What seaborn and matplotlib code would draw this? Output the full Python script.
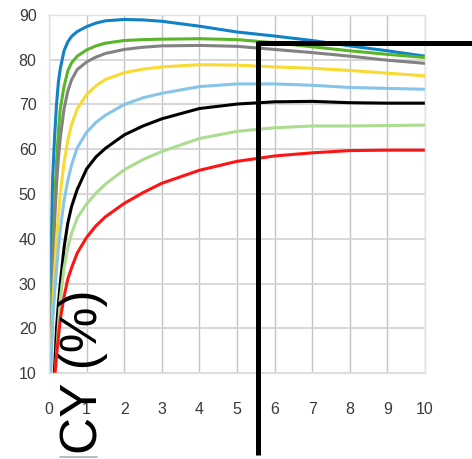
import numpy as np
import pandas as pd
import matplotlib
matplotlib.use("Agg")
import matplotlib.pyplot as plt
from matplotlib.lines import Line2D
import seaborn as sns

# ---- data ----
x_vals = [0, 0.05, 0.1, 0.15, 0.2, 0.25, 0.3, 0.4, 0.5, 0.6, 0.75, 1, 1.25, 1.5, 2, 2.5, 3, 4, 5, 6, 7, 8, 9, 10]

blue       = [0, 36, 54, 63, 70, 75, 78, 82, 84, 85.2, 86.3, 87.4, 88.2, 88.7, 89.0, 88.9, 88.6, 87.5, 86.2, 85.3, 84.3, 83.1, 82.0, 80.8]
green      = [0, 17, 35, 48, 57, 64, 69, 74, 77.5, 79.3, 80.8, 82.2, 83.1, 83.7, 84.3, 84.5, 84.6, 84.7, 84.5, 83.8, 82.9, 82.0, 81.2, 80.5]
gray       = [0, 16, 33, 44, 52, 58, 62.5, 69, 73, 75.5, 77.8, 79.5, 80.6, 81.4, 82.3, 82.8, 83.1, 83.2, 83.0, 82.3, 81.6, 80.8, 79.9, 79.2]
yellow     = [0, 12, 25, 33, 40, 45, 50, 57, 62, 65.5, 69, 72.2, 74.2, 75.6, 77.1, 77.9, 78.4, 78.9, 78.8, 78.4, 78.1, 77.6, 77.0, 76.4]
lightblue  = [0, 11, 22, 28, 33, 38, 42, 48.5, 53, 56.5, 60.3, 63.8, 66.0, 67.6, 70.0, 71.5, 72.5, 74.0, 74.6, 74.6, 74.3, 73.8, 73.6, 73.4]
black      = [0, 0, 3, 11, 20, 25.5, 30, 38, 43.5, 47.2, 51, 55.6, 58.3, 60.2, 63.2, 65.2, 66.8, 69.1, 70.1, 70.6, 70.7, 70.4, 70.3, 70.3]
lightgreen = [0, 0, 2, 8, 14, 20.5, 26.5, 33.5, 38, 41.2, 44.6, 47.8, 50.2, 52.2, 55.4, 57.7, 59.5, 62.4, 64.0, 64.8, 65.2, 65.2, 65.3, 65.4]
red        = [0, 0, 0, 9, 14, 18, 22, 27, 31, 33.5, 36.8, 40.3, 42.9, 44.9, 47.9, 50.3, 52.4, 55.3, 57.3, 58.5, 59.2, 59.7, 59.8, 59.8]

series_names = ["blue", "green", "gray", "yellow", "lightblue", "black", "lightgreen", "red"]
series_vals = [blue, green, gray, yellow, lightblue, black, lightgreen, red]
series_colors = ["#1282c6", "#5ab52a", "#828282", "#f8da32", "#86c5e8", "#000000", "#acdc90", "#ff1414"]

x_ticks = [0, 1, 2, 3, 4, 5, 6, 7, 8, 9, 10]
y_ticks = [10, 20, 30, 40, 50, 60, 70, 80, 90]

# overlay annotation (crosshair) and label
cross_x = 5.57
cross_y = 83.7
overlay_label = "CY (%)"

rows = []
for name, vals in zip(series_names, series_vals):
    for xv, yv in zip(x_vals, vals):
        rows.append({"x": xv, "y": yv, "series": name})
df = pd.DataFrame(rows)

sns.set_style("white")
plt.rcParams["font.family"] = ["Liberation Sans", "DejaVu Sans"]

fig = plt.figure(figsize=(4.72, 4.59), dpi=100)
ax = fig.add_axes([49 / 472, 1 - 373 / 459, (425 - 49) / 472, (373 - 15) / 459])

sns.lineplot(data=df, x="x", y="y", hue="series", palette=dict(zip(series_names, series_colors)),
             estimator=None, sort=False, linewidth=2.2, legend=False, ax=ax)
for ln in ax.lines:
    ln.set_solid_joinstyle("round")

ax.set_xlim(0, 10)
ax.set_ylim(10, 90)
ax.set_xticks(x_ticks)
ax.set_yticks(y_ticks)
ax.set_xticklabels([str(t) for t in x_ticks])
ax.set_yticklabels([str(t) for t in y_ticks])
ax.set_xlabel("")
ax.set_ylabel("")
ax.xaxis.grid(True, color="#c4c4c4", linewidth=1.0)
ax.yaxis.grid(True, color="#d4d4d4", linewidth=1.3)
ax.set_axisbelow(True)
for s in ax.spines.values():
    s.set_color("#e2e2e2")
    s.set_linewidth(1.0)
ax.tick_params(axis="both", length=0, labelsize=11.5, labelcolor="#3a3a3a")
ax.tick_params(axis="x", pad=21)
ax.tick_params(axis="y", pad=9)

# thick black crosshair overlay
ax.plot([cross_x, 11.3], [cross_y, cross_y], color="black", linewidth=3.6,
        clip_on=False, solid_capstyle="butt", zorder=10)
ax.plot([cross_x, cross_x], [cross_y + 0.55, -8.3], color="black", linewidth=3.6,
        clip_on=False, solid_capstyle="butt", zorder=10)

fig.text(83 / 472, 1 - 372 / 459, overlay_label, rotation=90, ha="center", va="center",
         fontsize=37, color="black", family=["Liberation Sans", "DejaVu Sans"], zorder=11)
fig.add_artist(Line2D([60 / 472, 97 / 472], [1 - 457 / 459, 1 - 457 / 459],
                      color="#b0b0b0", linewidth=1.2, transform=fig.transFigure))

fig.savefig("out.png", dpi=100)
